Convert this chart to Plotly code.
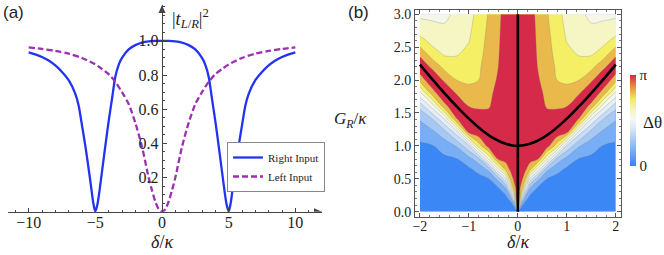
import plotly.graph_objects as go

W, H = 664, 255
SERIF = "Liberation Serif"
SANS = "Liberation Sans"
AX = "#444444"

# ---------------- Panel (a) data ----------------
delta_right = [-10, -9.5, -9, -8.5, -8, -7.5, -7, -6.5, -6.25, -6, -5.75, -5.5, -5.3, -5.15, -5,
               -4.85, -4.7, -4.5, -4.25, -4, -3.75, -3.5, -3.25, -3, -2.5, -2, -1.5, -1, -0.5, 0,
               0.5, 1, 1.5, 2, 2.5, 3, 3.25, 3.5, 3.75, 4, 4.25, 4.5, 4.7, 4.85, 5,
               5.15, 5.3, 5.5, 5.75, 6, 6.25, 6.5, 7, 7.5, 8, 8.5, 9, 9.5, 10]
t_right = [0.933, 0.921, 0.906, 0.885, 0.856, 0.818, 0.77, 0.69, 0.62, 0.505, 0.385, 0.25, 0.135, 0.05, 0,
           0.04, 0.115, 0.235, 0.385, 0.53, 0.66, 0.79, 0.86, 0.9, 0.95, 0.975, 0.99, 0.997, 1.0, 1.0,
           1.0, 0.997, 0.99, 0.975, 0.95, 0.9, 0.86, 0.79, 0.66, 0.53, 0.385, 0.235, 0.115, 0.04, 0,
           0.05, 0.135, 0.25, 0.385, 0.505, 0.62, 0.69, 0.77, 0.818, 0.856, 0.885, 0.906, 0.921, 0.933]

delta_left = [-10, -9, -8, -7, -6, -5, -4.5, -4, -3.5, -3, -2.5, -2, -1.5, -1, -0.75, -0.5, -0.25, 0,
              0.25, 0.5, 0.75, 1, 1.5, 2, 2.5, 3, 3.5, 4, 4.5, 5, 6, 7, 8, 9, 10]
t_left = [0.962, 0.953, 0.941, 0.925, 0.9, 0.862, 0.835, 0.805, 0.76, 0.70, 0.63, 0.52, 0.38, 0.2, 0.125, 0.06, 0.015, 0,
          0.015, 0.06, 0.125, 0.2, 0.38, 0.52, 0.63, 0.70, 0.76, 0.805, 0.835, 0.862, 0.9, 0.925, 0.941, 0.953, 0.962]

y_ticks_a = [0.2, 0.4, 0.6, 0.8, 1.0]
y_ticklabels_a = ["0.2", "0.4", "0.6", "0.8", "1.0"]

# ---------------- Panel (b) data ----------------
# Delta theta / pi, read from the contour bands (delta >= 0 half; symmetric in delta)
delta_half = [0, 0.03, 0.08, 0.15, 0.25, 0.4, 0.6, 0.8, 1.0, 1.25, 1.5, 1.75, 2.0]
G_rows = [0, 0.1, 0.2, 0.35, 0.5, 0.65, 0.8, 1.0, 1.2, 1.4, 1.6, 1.8, 2.0, 2.2, 2.4, 2.6, 2.8, 3.0]
dtheta_half = [
    [0, 0, 0, 0, 0, 0, 0, 0, 0, 0, 0, 0, 0],
    [1, 0.6, 0.133, 0.035, 0.013, 0.007, 0.004, 0.003, 0.002, 0.0015, 0.0012, 0.0009, 0.0008],
    [1, 0.904, 0.467, 0.16, 0.051, 0.028, 0.015, 0.011, 0.008, 0.006, 0.005, 0.004, 0.0034],
    [1, 0.92, 0.85, 0.5, 0.19, 0.085, 0.047, 0.034, 0.025, 0.018, 0.015, 0.0115, 0.0103],
    [1, 0.94, 0.92, 0.833, 0.475, 0.233, 0.096, 0.069, 0.051, 0.037, 0.031, 0.024, 0.021],
    [1, 0.96, 0.944, 0.923, 0.84, 0.6, 0.229, 0.133, 0.086, 0.063, 0.052, 0.040, 0.036],
    [1, 0.98, 0.968, 0.955, 0.934, 0.915, 0.6, 0.263, 0.163, 0.095, 0.079, 0.060, 0.054],
    [1, 1.0, 1.0, 0.998, 0.99, 0.976, 0.94, 0.75, 0.383, 0.208, 0.145, 0.094, 0.084],
    [1, 0.99, 0.985, 0.99, 0.985, 0.975, 0.99, 0.965, 0.904, 0.44, 0.253, 0.174, 0.137],
    [1, 0.99, 0.985, 0.975, 0.97, 0.95, 0.934, 0.956, 0.994, 0.889, 0.483, 0.288, 0.206],
    [1, 0.99, 0.985, 0.97, 0.96, 0.935, 0.893, 0.886, 0.9, 1.0, 0.86, 0.533, 0.33],
    [1, 0.99, 0.985, 0.97, 0.955, 0.925, 0.88, 0.835, 0.833, 0.891, 1.0, 0.845, 0.571],
    [1, 0.99, 0.985, 0.965, 0.945, 0.91, 0.865, 0.8, 0.785, 0.8, 0.883, 0.991, 0.833],
    [1, 0.99, 0.985, 0.96, 0.94, 0.9, 0.85, 0.785, 0.754, 0.739, 0.772, 0.88, 0.98],
    [1, 0.99, 0.98, 0.96, 0.935, 0.895, 0.835, 0.77, 0.723, 0.692, 0.687, 0.747, 0.877],
    [1, 0.99, 0.98, 0.955, 0.93, 0.892, 0.825, 0.76, 0.696, 0.668, 0.648, 0.668, 0.733],
    [1, 0.99, 0.98, 0.95, 0.925, 0.89, 0.815, 0.75, 0.678, 0.644, 0.61, 0.62, 0.644],
    [1, 0.99, 0.98, 0.945, 0.92, 0.888, 0.806, 0.74, 0.66, 0.62, 0.58, 0.58, 0.58],
]
# black curves (exceptional-point line and delta = 0 line)
hyp_delta = [-2, -1.75, -1.5, -1.25, -1, -0.75, -0.5, -0.25, 0, 0.25, 0.5, 0.75, 1, 1.25, 1.5, 1.75, 2]
hyp_G = [2.236, 2.016, 1.803, 1.601, 1.414, 1.25, 1.118, 1.031, 1.0, 1.031, 1.118, 1.25, 1.414, 1.601, 1.803, 2.016, 2.236]
vert_delta = [0, 0]
vert_G = [0, 3]

band_colors = ["#3b87f6", "#78aef5", "#a5c9f4", "#c8ddf5", "#e4eef6",
               "#f5f7ec", "#f5f6c4", "#f5ef66", "#eab94b", "#d52a4a"]
smooth_scale = [[0.0, "#3b80f4"], [0.2, "#85b5f4"], [0.42, "#dce9f7"], [0.52, "#f7f8f2"],
                [0.62, "#f5f4c0"], [0.74, "#f3e95a"], [0.86, "#e9963f"], [1.0, "#d6283f"]]

delta_full = [-d for d in reversed(delta_half[1:])] + delta_half
z_full = [list(reversed(r[1:])) + r for r in dtheta_half]

fig = go.Figure()

fig.add_trace(go.Scatter(x=delta_right, y=t_right, mode="lines", name="Right Input",
                         line=dict(color="#2233f2", width=2.3, shape="spline", smoothing=0.7),
                         xaxis="x", yaxis="y", cliponaxis=False))
fig.add_trace(go.Scatter(x=delta_left, y=t_left, mode="lines", name="Left Input",
                         line=dict(color="#9b30b0", width=2.3, dash="6px,3px", shape="spline", smoothing=0.8),
                         xaxis="x", yaxis="y", cliponaxis=False))

fig.add_trace(go.Contour(x=delta_full, y=G_rows, z=z_full, xaxis="x2", yaxis="y2",
                         contours=dict(start=0.1, end=0.9, size=0.1, coloring="fill"),
                         colorscale=[[i / 9, c] for i, c in enumerate(band_colors)],
                         showscale=False, line=dict(color="rgba(120,120,120,0.45)", width=0.6, smoothing=1.0),
                         hoverinfo="skip", showlegend=False))
fig.add_trace(go.Scatter(x=hyp_delta, y=hyp_G, mode="lines", line=dict(color="black", width=2.6, shape="spline"),
                         xaxis="x2", yaxis="y2", showlegend=False))
fig.add_trace(go.Scatter(x=vert_delta, y=vert_G, mode="lines", line=dict(color="black", width=2.6),
                         xaxis="x2", yaxis="y2", showlegend=False))
cbar = dict(thickness=6, len=91, lenmode="pixels", x=630 / W, xanchor="left",
            y=(H - 120) / H, yanchor="middle", outlinewidth=0, xpad=0, ypad=0,
            tickmode="array", tickvals=[0, 1], ticktext=["0", "π"], ticks="",
            tickfont=dict(family=SERIF, size=15, color="#222"))
fig.add_trace(go.Scatter(x=[None, None], y=[None, None], mode="markers", xaxis="x2", yaxis="y2", showlegend=False,
                         marker=dict(color=[0, 1], cmin=0, cmax=1, colorscale=smooth_scale, showscale=True,
                                     colorbar=cbar)))

serif_tick = dict(family=SERIF, size=16, color="#222")
fig.update_layout(
    width=W, height=H, margin=dict(l=0, r=0, t=0, b=0, autoexpand=False),
    paper_bgcolor="white", plot_bgcolor="white",
    showlegend=True,
    legend=dict(x=227 / W, y=(H - 142) / H, xanchor="left", yanchor="top", bgcolor="white",
                bordercolor="#888", borderwidth=1, font=dict(family=SERIF, size=11, color="#222"),
                itemwidth=30, tracegroupgap=2),
    xaxis=dict(domain=[8 / W, 322 / W], range=[-11.55, 12.0], anchor="y", showline=True, linecolor=AX,
               linewidth=1, ticks="inside", ticklen=4, tickcolor=AX, tickmode="linear", tick0=0, dtick=5,
               minor=dict(ticks="inside", ticklen=2, tickcolor=AX, dtick=1, tick0=0), automargin=False,
               ticklabelstandoff=-4, showgrid=False, zeroline=False, tickfont=serif_tick),
    yaxis=dict(domain=[(H - 211.7) / H, (H - 5) / H], range=[0, 1.21], anchor="free", position=161.7 / W,
               showline=True, linecolor=AX, linewidth=1, ticks="inside", ticklen=4, tickcolor=AX,
               tickmode="array", tickvals=y_ticks_a, ticktext=y_ticklabels_a, automargin=False,
               minor=dict(ticks="inside", ticklen=2, tickcolor=AX, dtick=0.05, tick0=0),
               showgrid=False, zeroline=False, tickfont=serif_tick),
    xaxis2=dict(domain=[415 / W, 620.7 / W], range=[-2.1, 2.1], anchor="y2", showline=True, mirror="allticks",
                linecolor="#555", linewidth=1, ticks="inside", ticklen=4, tickcolor="#555",
                tickmode="linear", tick0=0, dtick=1, automargin=False, ticklabelstandoff=-4,
                minor=dict(ticks="inside", ticklen=2, tickcolor="#777", dtick=0.2, tick0=0),
                showgrid=False, zeroline=False, tickfont=dict(family=SERIF, size=14, color="#222")),
    yaxis2=dict(domain=[(H - 216.7) / H, (H - 10) / H], range=[-0.076, 3.065], anchor="x2", showline=True,
                mirror="allticks", linecolor="#555", linewidth=1, ticks="inside", ticklen=4, tickcolor="#555",
                tickmode="linear", tick0=0, dtick=0.5, tickformat=".1f", automargin=False,
                minor=dict(ticks="inside", ticklen=2, tickcolor="#777", dtick=0.1, tick0=0),
                showgrid=False, zeroline=False, tickfont=dict(family=SERIF, size=14, color="#222")),
)

ann = [
    dict(text="(a)", x=1 / W, y=1 - 1 / H, xref="paper", yref="paper", xanchor="left", yanchor="top",
         showarrow=False, font=dict(family=SANS, size=17, color="#222")),
    dict(text="(b)", x=346 / W, y=1 - 1 / H, xref="paper", yref="paper", xanchor="left", yanchor="top",
         showarrow=False, font=dict(family=SANS, size=17, color="#222")),
    dict(text="|<i>t</i><sub><i>L</i>/<i>R</i></sub>|<sup>2</sup>", x=170 / W, y=(H - 19) / H, xref="paper",
         yref="paper", xanchor="left", yanchor="middle", showarrow=False, font=dict(family=SERIF, size=18, color="#222")),
    dict(text="<i>δ</i>/<i>κ</i>", x=162 / W, y=(H - 242) / H, xref="paper", yref="paper", xanchor="center",
         yanchor="middle", showarrow=False, font=dict(family=SERIF, size=18, color="#222")),
    dict(text="<i>δ</i>/<i>κ</i>", x=518 / W, y=(H - 242) / H, xref="paper", yref="paper", xanchor="center",
         yanchor="middle", showarrow=False, font=dict(family=SERIF, size=18, color="#222")),
    dict(text="<i>G</i><sub><i>R</i></sub>/<i>κ</i>", x=350 / W, y=(H - 120) / H, xref="paper", yref="paper",
         xanchor="center", yanchor="middle", showarrow=False, font=dict(family=SERIF, size=17, color="#222")),
    dict(text="Δθ", x=652 / W, y=(H - 123) / H, xref="paper", yref="paper", xanchor="center", yanchor="middle",
         showarrow=False, font=dict(family=SERIF, size=17, color="#222")),
]
fig.update_layout(annotations=ann)

# axis arrowheads (Mathematica-style axes)
fig.add_shape(type="path", xref="x", yref="y", xsizemode="pixel", ysizemode="pixel", xanchor=12.0, yanchor=0,
              path="M 0 0 L -8 3.5 L -8 -3.5 Z", fillcolor=AX, line=dict(width=0))
fig.add_shape(type="path", xref="x", yref="y", xsizemode="pixel", ysizemode="pixel", xanchor=0, yanchor=1.21,
              path="M 0 0 L -3.5 -8 L 3.5 -8 Z", fillcolor=AX, line=dict(width=0))

fig.write_html("out.html", config={"displayModeBar": False},
               post_script="document.body.style.margin='0px';document.body.style.overflow='hidden';")
